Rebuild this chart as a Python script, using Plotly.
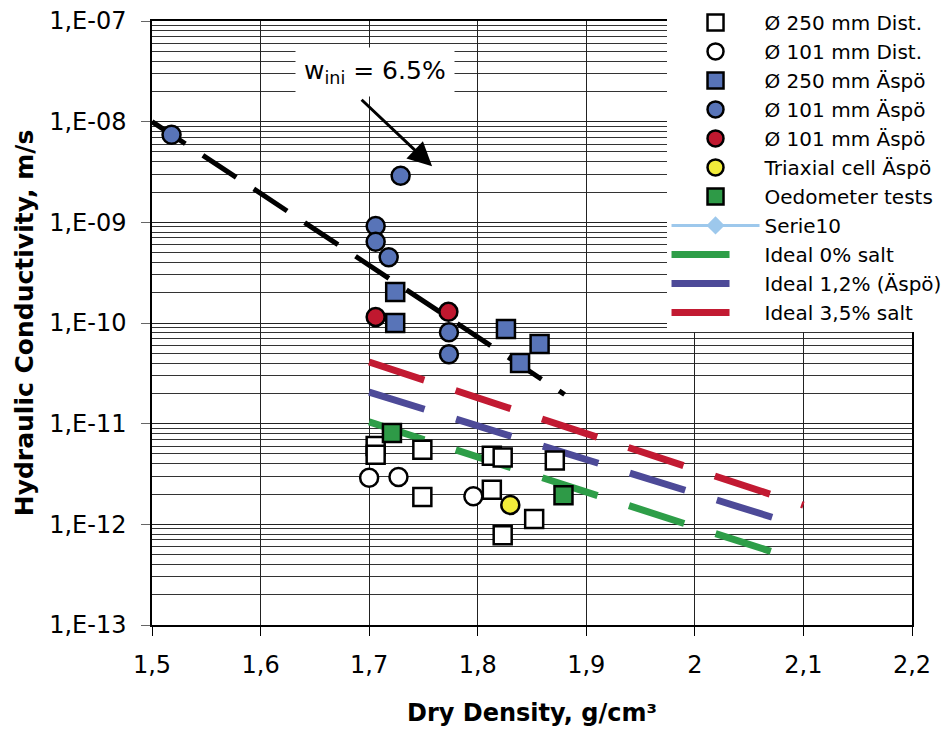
import math
import plotly.graph_objects as go

# ---------------- data ----------------
d250_dist_x = [1.706, 1.706, 1.749, 1.749, 1.813, 1.823, 1.813, 1.852, 1.823, 1.871]
d250_dist_y = [6.0e-12, 4.9e-12, 5.5e-12, 1.87e-12, 4.8e-12, 4.6e-12, 2.2e-12, 1.13e-12, 7.8e-13, 4.3e-12]

d101_dist_x = [1.700, 1.727, 1.796]
d101_dist_y = [2.9e-12, 2.95e-12, 1.9e-12]

d250_aspo_x = [1.724, 1.724, 1.826, 1.857, 1.839]
d250_aspo_y = [2.03e-10, 1.0e-10, 8.7e-11, 6.2e-11, 4.0e-11]

d101_aspo_x = [1.518, 1.729, 1.706, 1.706, 1.718, 1.7735, 1.7735]
d101_aspo_y = [7.4e-9, 2.9e-9, 9.2e-10, 6.4e-10, 4.5e-10, 8.1e-11, 4.9e-11]

d101_aspo_red_x = [1.706, 1.773]
d101_aspo_red_y = [1.15e-10, 1.29e-10]

triax_x = [1.830]
triax_y = [1.56e-12]

oedo_x = [1.721, 1.879]
oedo_y = [8.1e-12, 1.95e-12]

serie10_x = [None]
serie10_y = [None]

trend_x = [1.5, 1.88]
trend_y = [1.0e-8, 1.95e-11]

ideal0_x = [1.7, 2.072]
ideal0_y = [1.04e-11, 5.3e-13]
ideal12_x = [1.7, 2.073]
ideal12_y = [2.06e-11, 1.16e-12]
ideal35_x = [1.7, 2.1]
ideal35_y = [4.1e-11, 1.55e-12]

x_ticks = [1.5, 1.6, 1.7, 1.8, 1.9, 2.0, 2.1, 2.2]
x_ticktext = ["1,5", "1,6", "1,7", "1,8", "1,9", "2", "2,1", "2,2"]
y_ticks = [1e-13, 1e-12, 1e-11, 1e-10, 1e-9, 1e-8, 1e-7]
y_ticktext = ["1,E-13", "1,E-12", "1,E-11", "1,E-10", "1,E-09", "1,E-08", "1,E-07"]

annot_text = "w<sub>ini</sub> = 6.5%"
annot_pos = (1.705, 3.11e-8)
arrow_head = (1.758, 3.6e-9)

# ---------------- styles ----------------
FONT = "DejaVu Sans, Liberation Sans, Arial, sans-serif"
BLUE = "#5874B8"
RED = "#C0182F"
GREEN_M = "#2E9A47"
YELLOW = "#F2EC3A"
GREEN_L = "#2E9E48"
PURPLE = "#4D4A98"
RED_L = "#C21A32"
LIGHTBLUE = "#9DC8EC"
MSIZE = 18
MLINE = dict(color="black", width=2.5)

fig = go.Figure()

# trend line (drawn first, under everything)
fig.add_trace(go.Scatter(
    x=trend_x, y=trend_y, mode="lines", showlegend=False,
    line=dict(color="black", width=5, dash="40px,21px")))

fig.add_trace(go.Scatter(
    x=serie10_x, y=serie10_y, mode="lines+markers", name="Serie10", legendrank=8,
    line=dict(color=LIGHTBLUE, width=3),
    marker=dict(symbol="diamond", size=14, color=LIGHTBLUE)))
for rank, (xs, ys, name, col) in enumerate([
        (ideal0_x, ideal0_y, "Ideal 0% salt", GREEN_L),
        (ideal12_x, ideal12_y, "Ideal 1,2% (Äspö)", PURPLE),
        (ideal35_x, ideal35_y, "Ideal 3,5% salt", RED_L)]):
    fig.add_trace(go.Scatter(
        x=xs, y=ys, mode="lines", name=name, legendrank=9 + rank,
        line=dict(color=col, width=7, dash="58px,33px")))

def markers(x, y, name, symbol, color, rank):
    fig.add_trace(go.Scatter(
        x=x, y=y, mode="markers", name=name, legendrank=rank,
        marker=dict(symbol=symbol, size=MSIZE, color=color, line=MLINE)))

markers(d250_dist_x, d250_dist_y, "Ø 250 mm Dist.", "square", "white", 1)
markers(d101_dist_x, d101_dist_y, "Ø 101 mm Dist.", "circle", "white", 2)
markers(d250_aspo_x, d250_aspo_y, "Ø 250 mm Äspö", "square", BLUE, 3)
markers(d101_aspo_x, d101_aspo_y, "Ø 101 mm Äspö", "circle", BLUE, 4)
markers(d101_aspo_red_x, d101_aspo_red_y, "Ø 101 mm Äspö", "circle", RED, 5)
markers(triax_x, triax_y, "Triaxial cell Äspö", "circle", YELLOW, 6)
markers(oedo_x, oedo_y, "Oedometer tests", "square", GREEN_M, 7)

fig.add_annotation(
    x=annot_pos[0], y=math.log10(annot_pos[1]), xref="x", yref="y",
    text=annot_text, showarrow=False, bgcolor="white", borderpad=8,
    font=dict(family=FONT, size=25, color="black"))
fig.add_annotation(
    x=arrow_head[0], y=math.log10(arrow_head[1]), xref="x", yref="y",
    text="", showarrow=True, arrowhead=2, arrowsize=1.6, arrowwidth=3,
    arrowcolor="black", ax=-72, ay=-68, standoff=0)

# page body has an 8px default margin -> figure is offset by 8px
fig.update_layout(
    width=942, height=723,
    margin=dict(l=144, r=38, t=13, b=106, autoexpand=False),
    paper_bgcolor="white", plot_bgcolor="white",
    font=dict(family=FONT, size=24, color="black"),
    legend=dict(
        x=0.677, y=1.03, xanchor="left", yanchor="top",
        bgcolor="white", borderwidth=0,
        font=dict(family=FONT, size=20, color="black"),
        itemwidth=88, tracegroupgap=0,
        traceorder="normal"),
)

fig.update_xaxes(
    range=[1.5, 2.2], tickvals=x_ticks, ticktext=x_ticktext,
    showgrid=True, gridcolor="#222", gridwidth=1,
    showline=True, linecolor="black", linewidth=1.5, mirror=True,
    ticks="outside", ticklen=9, tickcolor="black",
    zeroline=False, ticklabelstandoff=8, ticklabeloverflow="allow",
    tickfont=dict(family=FONT, size=24),
    title=dict(text="Dry Density, g/cm³", standoff=27,
               font=dict(family=FONT, size=24, weight="bold")))

fig.update_yaxes(
    type="log", range=[-13, -7], tickvals=y_ticks, ticktext=y_ticktext,
    showgrid=True, gridcolor="#222", gridwidth=1,
    minor=dict(dtick="D1", showgrid=True, gridcolor="#333", gridwidth=1, ticks=""),
    showline=True, linecolor="black", linewidth=1.5, mirror=True,
    ticks="outside", ticklen=9, tickcolor="#666",
    zeroline=False, ticklabelstandoff=10, ticklabeloverflow="allow",
    tickfont=dict(family=FONT, size=24),
    title=dict(text="Hydraulic Conductivity, m/s", standoff=8,
               font=dict(family=FONT, size=25, weight="bold")))

fig.write_html("out.html")
